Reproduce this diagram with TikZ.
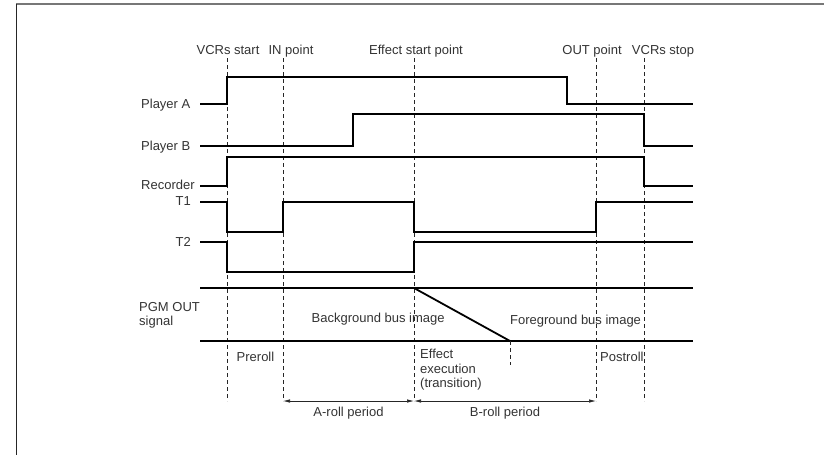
\documentclass[tikz,border=0pt]{standalone}
\usepackage{fontspec}
\setmainfont{Liberation Sans}
\usetikzlibrary{arrows.meta}

\definecolor{txtgray}{HTML}{333333}
\definecolor{framegray}{HTML}{777777}

\begin{document}
\begin{tikzpicture}[
  x = 1pt, y = -1pt,
  sig/.style   = {line width=1.8pt, draw=black, line join=miter},
  guide/.style = {line width=0.9pt, draw=black!85, dash pattern=on 4pt off 3pt},
  lbl/.style   = {font=\fontsize{13}{14.5}\selectfont, text=txtgray,
                  inner sep=0pt, align=left},
  per/.style   = {{Latex[length=7pt,width=3.5pt]}-{Latex[length=7pt,width=3.5pt]},
                  line width=0.7pt, draw=black!85},
]
\useasboundingbox (0,0) rectangle (824,455);

% ── Frame ─────────────────────────────────────────────────────────────────────
\draw[framegray, line width=1.5pt] (16,4) -- (824,4);
\draw[black!85, line width=1pt] (16,4) -- (16,455);

% ── Time marks ────────────────────────────────────────────────────────────────
\foreach \n/\x in {vs/227, in/283, es/414, out/596, ve/644} {
  \coordinate (\n-top) at (\x,58);
  \coordinate (\n-bot) at (\x,401);
  \draw[guide] (\n-top) -- (\n-bot);
}

\node[lbl, anchor=base] (vcrstart) at (228,54) {VCRs start};
\node[lbl, anchor=base] (inpoint)  at (291,54) {IN point};
\node[lbl, anchor=base] (effstart) at (416,54) {Effect start point};
\node[lbl, anchor=base] (outpoint) at (592,54) {OUT point};
\node[lbl, anchor=base] (vcrstop)  at (663,54) {VCRs stop};

% ── Signal names ──────────────────────────────────────────────────────────────
\node[lbl, anchor=base west] (playa) at (141,108.5) {Player A};
\node[lbl, anchor=base west] (playb) at (141,150)   {Player B};
\node[lbl, anchor=base west] (rec)   at (141,189.5) {Recorder};
\node[lbl, anchor=base east] (tone)  at (191,205)   {T1};
\node[lbl, anchor=base east] (ttwo)  at (191,246)   {T2};
\node[lbl, anchor=north west] (pgm)  at (139,302)   {PGM OUT\\signal};

% ── Waveforms ─────────────────────────────────────────────────────────────────
\draw[sig] (200,104) -- (227,104) -- (227,77) -- (567,77) -- (567,104) -- (693,104);
\draw[sig] (200,146) -- (353,146) -- (353,114) -- (644,114) -- (644,146) -- (693,146);
\draw[sig] (200,186) -- (227,186) -- (227,157) -- (644,157) -- (644,186) -- (693,186);
\draw[sig] (200,202) -- (227,202) -- (227,232) -- (283,232) -- (283,202)
           -- (414,202) -- (414,232) -- (596,232) -- (596,202) -- (693,202);
\draw[sig] (200,242) -- (227,242) -- (227,272) -- (414,272) -- (414,242) -- (693,242);

% ── PGM OUT ───────────────────────────────────────────────────────────────────
\coordinate (mixA) at (414,288);
\coordinate (mixB) at (510,341);
\coordinate (mixC) at (510,365);
\draw[sig] (200,288) -- (693,288);
\draw[sig] (200,341) -- (693,341);
\draw[sig] (mixA) -- (mixB);
\draw[guide] (mixB) -- (mixC);

\node[lbl, anchor=base west] (bgimg) at (311.5,322.5) {Background bus image};
\node[lbl, anchor=base west] (fgimg) at (510,324)     {Foreground bus image};

% ── Periods ───────────────────────────────────────────────────────────────────
\node[lbl, anchor=base west] (preroll)  at (236.5,361) {Preroll};
\node[lbl, anchor=base west] (postroll) at (600,361)   {Postroll};
\node[lbl, anchor=north west] (effexec) at (420,349)   {Effect\\execution\\(transition)};

\draw[per] (in-bot) -- (es-bot);
\draw[per] (es-bot) -- (out-bot);
\node[lbl, anchor=base] (aroll) at (348.5,416.5) {A-roll period};
\node[lbl, anchor=base] (broll) at (505,416.5)   {B-roll period};

\end{tikzpicture}
\end{document}
